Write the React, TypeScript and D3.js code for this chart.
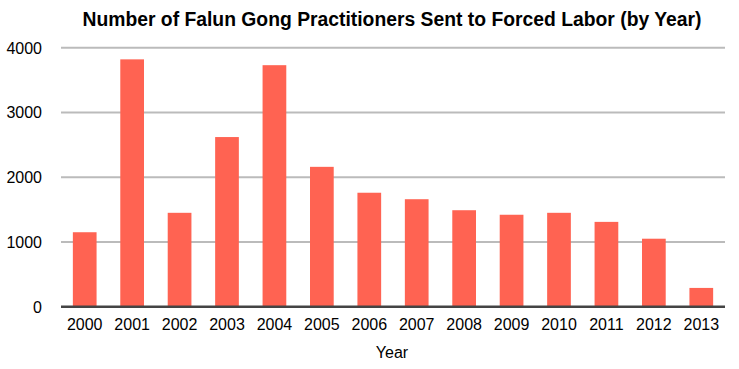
import React from "react";
import * as d3 from "d3";

const years = ["2000","2001","2002","2003","2004","2005","2006","2007","2008","2009","2010","2011","2012","2013"];
const counts = [1150, 3820, 1450, 2620, 3730, 2160, 1760, 1660, 1490, 1420, 1450, 1310, 1050, 290];
const yTicks = [0, 1000, 2000, 3000, 4000];
const title = "Number of Falun Gong Practitioners Sent to Forced Labor (by Year)";
const xTitle = "Year";

const W = 739, H = 369;
const left = 61, right = 725, top = 47.7, bottom = 306.7;

export default function App() {
  const x = d3.scaleBand<string>().domain(years).range([left, right]).paddingInner(0.5).paddingOuter(0.25);
  const y = d3.scaleLinear().domain([0, 4000]).range([bottom, top]);
  const font = "'Liberation Sans', Arial, Helvetica, sans-serif";
  return (
    <svg width={W} height={H} style={{ position: "absolute", left: 0, top: 0, background: "#fff" }}>
      <text x={392} y={26} textAnchor="middle" fontFamily={font} fontWeight="bold" fontSize={20} fill="#000" textLength={619} lengthAdjust="spacingAndGlyphs">{title}</text>
      {yTicks.filter(t => t > 0).map(t => (
        <line key={t} x1={left} x2={right} y1={y(t)} y2={y(t)} stroke="#bbbbbb" strokeWidth={2} />
      ))}
      {yTicks.map(t => (
        <text key={"l" + t} x={42} y={y(t) + 5.8} textAnchor="end" fontFamily={font} fontSize={16} fill="#000">{t}</text>
      ))}
      {years.map((yr, i) => (
        <rect key={yr} x={x(yr)} y={y(counts[i])} width={x.bandwidth()} height={y(0) - y(counts[i])} fill="#ff6352" />
      ))}
      <line x1={left} x2={right} y1={y(0)} y2={y(0)} stroke="#444444" strokeWidth={2.5} />
      {years.map(yr => (
        <text key={"x" + yr} x={(x(yr) as number) + x.bandwidth() / 2} y={330} textAnchor="middle" fontFamily={font} fontSize={16} fill="#000">{yr}</text>
      ))}
      <text x={392} y={358} textAnchor="middle" fontFamily={font} fontSize={16} fill="#000">{xTitle}</text>
    </svg>
  );
}
